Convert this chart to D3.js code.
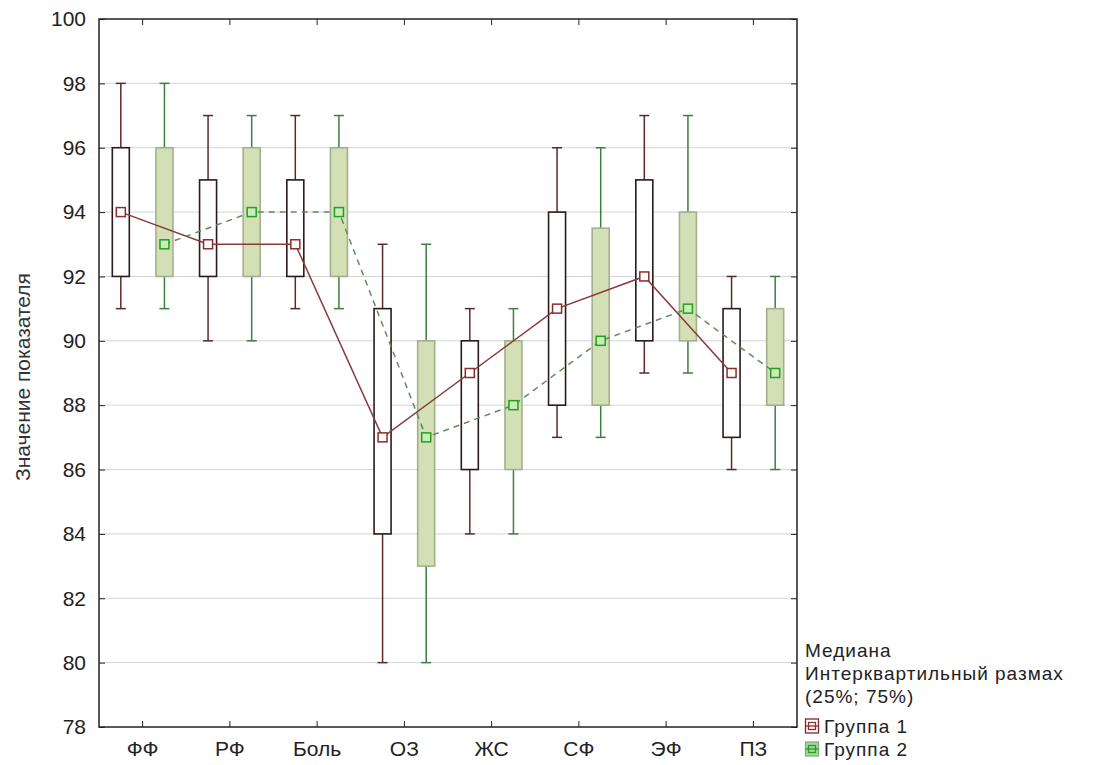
<!DOCTYPE html>
<html>
<head>
<meta charset="utf-8">
<title>Значение показателя</title>
<script src="https://d3js.org/d3.v7.min.js"></script>
<style>
  body { margin: 0; background: #fff; }
  text { font-family: Arial, "Liberation Sans", sans-serif; fill: #222; }
</style>
</head>
<body>
<div id="chart"></div>
<script>
// categories and tick labels
var categories = ["ФФ", "РФ", "Боль", "ОЗ", "ЖС", "СФ", "ЭФ", "ПЗ"];
var yTicks = [78, 80, 82, 84, 86, 88, 90, 92, 94, 96, 98, 100];

// group 1: min, q1, median, q3, max
var g1Min = [91, 90, 91, 80, 84, 87, 89, 86];
var g1Q1  = [92, 92, 92, 84, 86, 88, 90, 87];
var g1Med = [94, 93, 93, 87, 89, 91, 92, 89];
var g1Q3  = [96, 95, 95, 91, 90, 94, 95, 91];
var g1Max = [98, 97, 97, 93, 91, 96, 97, 92];

// group 2
var g2Min = [91, 90, 91, 80, 84, 87, 89, 86];
var g2Q1  = [92, 92, 92, 83, 86, 88, 90, 88];
var g2Med = [93, 94, 94, 87, 88, 90, 91, 89];
var g2Q3  = [96, 96, 96, 90, 90, 93.5, 94, 91];
var g2Max = [98, 97, 97, 93, 91, 96, 97, 92];

var legendLines = ["Медиана", "Интерквартильный размах", "(25%; 75%)"];
var groupNames = ["Группа 1", "Группа 2"];

var width = 1101, height = 765;
var margin = {left: 99, right: 304, top: 19, bottom: 38};

var svg = d3.select("#chart").append("svg")
    .attr("width", width)
    .attr("height", height);

var x = d3.scaleBand()
    .domain(categories)
    .range([margin.left, width - margin.right]);

var y = d3.scaleLinear()
    .domain([78, 100])
    .range([height - margin.bottom, margin.top]);

var off = x.bandwidth() * 0.25;
var boxW = 17, capW = 10;

// grid lines
svg.append("g").selectAll("line")
    .data(yTicks.slice(1, -1))
    .enter().append("line")
    .attr("x1", margin.left).attr("x2", width - margin.right)
    .attr("y1", function(d){ return y(d); })
    .attr("y2", function(d){ return y(d); })
    .style("stroke", "#d4d4d4")
    .style("stroke-width", 1);

// axes, ticks point inwards
var tickFmt = d3.format("d");
svg.append("g")
    .attr("transform", "translate(" + margin.left + ",0)")
    .call(d3.axisLeft(y).tickValues(yTicks).tickFormat(tickFmt).tickSizeInner(-6).tickSizeOuter(0).tickPadding(13))
    .call(function(g){
      g.select(".domain").remove();
      g.selectAll("text").style("font-size", "21px").style("fill", "#222");
      g.selectAll("line").style("stroke", "#222");
    });

svg.append("g")
    .attr("transform", "translate(" + (width - margin.right) + ",0)")
    .call(d3.axisRight(y).tickValues(yTicks).tickSizeInner(-6).tickSizeOuter(0).tickFormat(""))
    .call(function(g){ g.select(".domain").remove(); g.selectAll("line").style("stroke", "#222"); });

svg.append("g")
    .attr("transform", "translate(0," + (height - margin.bottom) + ")")
    .call(d3.axisBottom(x).tickSizeInner(-6).tickSizeOuter(0).tickPadding(14))
    .call(function(g){
      g.select(".domain").remove();
      g.selectAll("text").style("font-size", "21px").style("fill", "#222");
      g.selectAll("line").style("stroke", "#222");
    });

svg.append("g")
    .attr("transform", "translate(0," + margin.top + ")")
    .call(d3.axisTop(x).tickSizeInner(-6).tickSizeOuter(0).tickFormat(""))
    .call(function(g){ g.select(".domain").remove(); g.selectAll("line").style("stroke", "#222"); });

// frame
svg.append("rect")
    .attr("x", margin.left).attr("y", margin.top)
    .attr("width", width - margin.right - margin.left)
    .attr("height", height - margin.bottom - margin.top)
    .style("fill", "none")
    .style("stroke", "#222")
    .style("stroke-width", 1.5);

// y title
svg.append("text")
    .attr("transform", "translate(30,377) rotate(-90)")
    .attr("text-anchor", "middle")
    .style("font-size", "21px")
    .style("fill", "#333")
    .text("Значение показателя");

var groups = [
  {min: g1Min, q1: g1Q1, med: g1Med, q3: g1Q3, max: g1Max, dx: -off,
   whisker: "#5e2828", boxFill: "#ffffff", boxStroke: "#2a1a1a",
   line: "#8a3a3a", dash: null, mark: "#8b2d2d", markFill: "#ffffff"},
  {min: g2Min, q1: g2Q1, med: g2Med, q3: g2Q3, max: g2Max, dx: off,
   whisker: "#3d7d3d", boxFill: "#d3dfb4", boxStroke: "#a3b08f",
   line: "#5f8c5f", dash: "6,5", mark: "#22a022", markFill: "#c9ecb9"}
];

groups.forEach(function(gr){
  var cx = function(i){ return x(categories[i]) + x.bandwidth() / 2 + gr.dx; };
  var g = svg.append("g");
  var idx = d3.range(categories.length);

  // whiskers
  g.selectAll(".w").data(idx).enter().append("line")
      .attr("x1", cx).attr("x2", cx)
      .attr("y1", function(i){ return y(gr.min[i]); })
      .attr("y2", function(i){ return y(gr.max[i]); })
      .style("stroke", gr.whisker).style("stroke-width", 1.5);
  [gr.min, gr.max].forEach(function(arr){
    g.selectAll(".c").data(idx).enter().append("line")
        .attr("x1", function(i){ return cx(i) - capW / 2; })
        .attr("x2", function(i){ return cx(i) + capW / 2; })
        .attr("y1", function(i){ return y(arr[i]); })
        .attr("y2", function(i){ return y(arr[i]); })
        .style("stroke", gr.whisker).style("stroke-width", 1.5);
  });

  // boxes
  g.selectAll(".b").data(idx).enter().append("rect")
      .attr("x", function(i){ return cx(i) - boxW / 2; })
      .attr("y", function(i){ return y(gr.q3[i]); })
      .attr("width", boxW)
      .attr("height", function(i){ return y(gr.q1[i]) - y(gr.q3[i]); })
      .style("fill", gr.boxFill)
      .style("stroke", gr.boxStroke)
      .style("stroke-width", 1.6);
});

// median lines drawn over boxes
groups.forEach(function(gr){
  var cx = function(i){ return x(categories[i]) + x.bandwidth() / 2 + gr.dx; };
  var idx = d3.range(categories.length);
  var line = d3.line().x(cx).y(function(i){ return y(gr.med[i]); });
  svg.append("path")
      .datum(idx)
      .attr("d", line)
      .style("fill", "none")
      .style("stroke", gr.line)
      .style("stroke-width", 1.5)
      .style("stroke-dasharray", gr.dash);
});

groups.forEach(function(gr){
  var cx = function(i){ return x(categories[i]) + x.bandwidth() / 2 + gr.dx; };
  svg.append("g").selectAll("rect")
      .data(d3.range(categories.length))
      .enter().append("rect")
      .attr("x", function(i){ return cx(i) - 4.5; })
      .attr("y", function(i){ return y(gr.med[i]) - 4.5; })
      .attr("width", 9).attr("height", 9)
      .style("fill", gr.markFill)
      .style("stroke", gr.mark)
      .style("stroke-width", 1.5);
});

// legend
var lx = 805;
var legend = svg.append("g");
legend.selectAll(".lt").data(legendLines).enter().append("text")
    .attr("x", lx)
    .attr("y", function(d, i){ return 657 + i * 23; })
    .style("font-size", "19px")
    .style("letter-spacing", "1px")
    .text(function(d){ return d; });

groupNames.forEach(function(name, k){
  var gr = groups[k];
  var yy = 733 + k * 23;
  var it = legend.append("g").attr("transform", "translate(" + (lx + 7) + "," + (yy - 7) + ")");
  it.append("rect").attr("x", -6.5).attr("y", -7).attr("width", 13).attr("height", 14)
      .style("fill", k === 0 ? "#ffffff" : "#a6d69a")
      .style("stroke", k === 0 ? "#7a2a2a" : "#7fb07f").style("stroke-width", 1.3);
  it.append("line").attr("x1", -6.5).attr("x2", 6.5).attr("y1", 0).attr("y2", 0)
      .style("stroke", gr.mark).style("stroke-width", 1.3);
  it.append("rect").attr("x", -3.5).attr("y", -3.5).attr("width", 7).attr("height", 7)
      .style("fill", "none").style("stroke", gr.mark).style("stroke-width", 1.3);
  legend.append("text").attr("x", lx + 19).attr("y", yy)
      .style("font-size", "19px")
      .style("letter-spacing", "1px")
      .text(name);
});
</script>
</body>
</html>
